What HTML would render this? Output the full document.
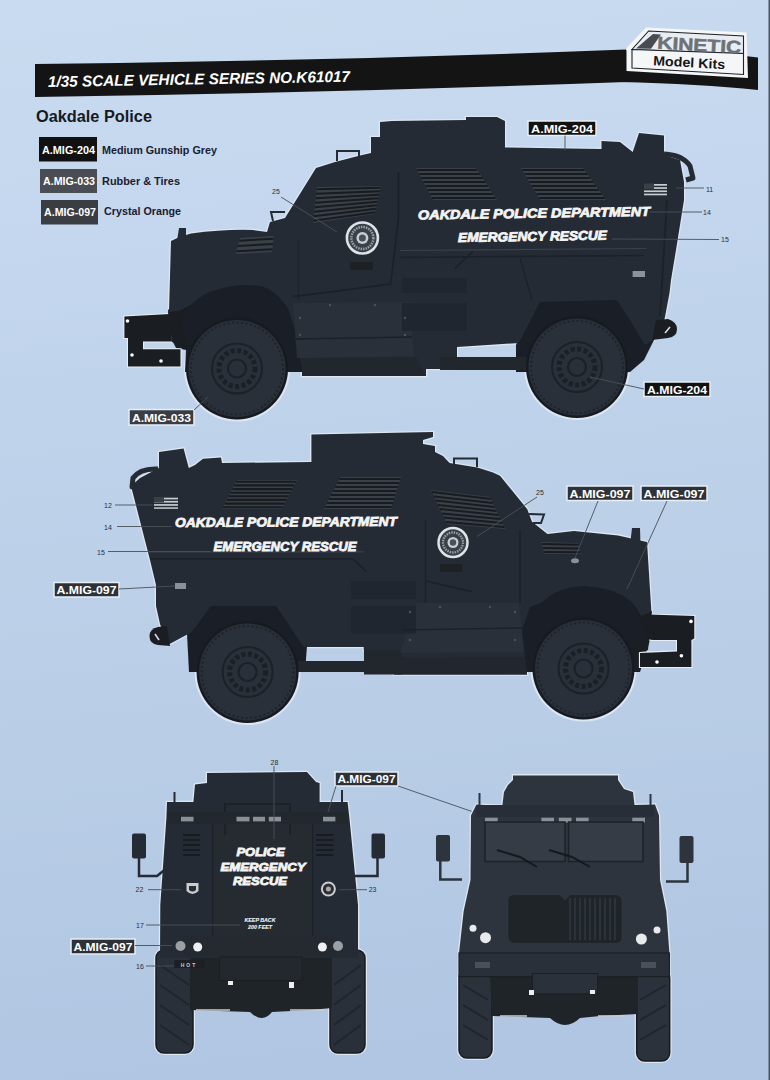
<!DOCTYPE html>
<html><head><meta charset="utf-8">
<style>
html,body{margin:0;padding:0;width:770px;height:1080px;overflow:hidden;background:#c2d2e4;}
svg{display:block;position:absolute;left:0;top:0;}
text{font-family:"Liberation Sans",sans-serif;}
.lbl{font-weight:bold;fill:#fff;}
.num{font-size:7px;fill:#2a2e34;}
.ld{stroke:#4a5058;stroke-width:0.9;fill:none;}
.wt{font-weight:bold;font-style:italic;fill:#f4f4f4;stroke:#f4f4f4;stroke-width:0.8;}
</style></head>
<body>
<svg width="770" height="1080" viewBox="0 0 770 1080">
<defs>
<linearGradient id="bg" x1="0" y1="0" x2="0.08" y2="1">
<stop offset="0" stop-color="#c8dbef"/>
<stop offset="0.23" stop-color="#c4d7ee"/>
<stop offset="0.37" stop-color="#bfd3eb"/>
<stop offset="0.7" stop-color="#b9cde6"/>
<stop offset="1" stop-color="#b0c6e2"/>
</linearGradient>
<g id="wheel">
<circle cx="0" cy="0" r="51" fill="#171b21"/>
<circle cx="0" cy="0" r="48.5" fill="#29303a"/>
<circle cx="0" cy="0" r="46" fill="none" stroke="#1e232a" stroke-width="2" stroke-dasharray="2 2.5"/>
<circle cx="0" cy="0" r="25" fill="none" stroke="#1c2128" stroke-width="2"/>
<circle cx="0" cy="0" r="18" fill="none" stroke="#1c2026" stroke-width="5" stroke-dasharray="4 2.5"/>
<circle cx="0" cy="0" r="9" fill="none" stroke="#1c2128" stroke-width="2.2"/>
</g>
</defs>
<rect x="0" y="0" width="770" height="1080" fill="url(#bg)"/>
<rect x="768.5" y="0" width="1.5" height="1080" fill="#4a5565"/>
<!-- header bar -->
<path d="M35,64 Q330,61 626,49.5 L626,82 Q330,93 35,97 Z" fill="#141414"/>
<path d="M620,50 L745,56 L758,57.5 L758,90 Q700,84 620,82 Z" fill="#141414"/>
<text x="48" y="87" font-size="15.5" font-weight="bold" font-style="italic" fill="#fff" textLength="302" lengthAdjust="spacingAndGlyphs" transform="rotate(-1 48 87)">1/35 SCALE VEHICLE SERIES NO.K61017</text>
<!-- logo -->
<path d="M646,27.5 L746.5,32.5 L748,78 L626.5,71 L626.5,48 Z" fill="#f4f6f8"/>
<path d="M648.6,31 L743.5,36 L743.5,53.5 L632,49.5 Z" fill="#e9edf1" stroke="#1e2226" stroke-width="1.1"/>
<path d="M632,49.5 L743.5,53.5 L743.5,74.5 L632,68 Z" fill="#f4f6f8" stroke="#1e2226" stroke-width="1.1"/>
<path d="M636,48.5 L653,34 L661,34.5 L651,48.8 Z" fill="#474c52"/>
<text x="657" y="48.8" font-size="17.5" font-weight="bold" fill="#6d7278" stroke="#6d7278" stroke-width="0.5" textLength="84" lengthAdjust="spacingAndGlyphs" transform="rotate(3 657 48.8)">KINETIC</text>
<text x="653" y="65.3" font-size="13.5" font-weight="bold" fill="#15171a" textLength="72" lengthAdjust="spacingAndGlyphs" transform="rotate(3 653 65.3)">Model Kits</text>
<!-- title & legend -->
<text x="36" y="122" font-size="16" font-weight="bold" fill="#161a22" textLength="116" lengthAdjust="spacingAndGlyphs">Oakdale Police</text>
<rect x="39" y="137" width="58" height="24.5" fill="#111"/>
<text x="42" y="153.5" class="lbl" font-size="11" textLength="53" lengthAdjust="spacingAndGlyphs">A.MIG-204</text>
<text x="102" y="153.5" font-size="11" font-weight="bold" fill="#1a2030" textLength="115" lengthAdjust="spacingAndGlyphs">Medium Gunship Grey</text>
<rect x="40" y="169" width="57" height="24" fill="#4a4e54"/>
<text x="43" y="185" class="lbl" font-size="11" textLength="52" lengthAdjust="spacingAndGlyphs">A.MIG-033</text>
<text x="102" y="185" font-size="11" font-weight="bold" fill="#1a2030" textLength="78" lengthAdjust="spacingAndGlyphs">Rubber &amp; Tires</text>
<rect x="41" y="200" width="57" height="24.5" fill="#3a3d42"/>
<text x="44" y="216" class="lbl" font-size="11" textLength="52" lengthAdjust="spacingAndGlyphs">A.MIG-097</text>
<text x="104" y="215" font-size="11" font-weight="bold" fill="#1a2030" textLength="77" lengthAdjust="spacingAndGlyphs">Crystal Orange</text>
<!-- ===== VEHICLE 1 ===== -->
<circle cx="237" cy="368.5" r="52" fill="none" stroke="#dce7f2" stroke-width="2"/><circle cx="577" cy="367" r="52" fill="none" stroke="#dce7f2" stroke-width="2"/>
<path d="M171,241 Q180,236 191,233.5 Q225,229 253,230 L267,232 L270,222 L285,218 L316,168 L335,162 L360,155.6 L371,153 L371,137 L380,137 L380,122 L392,121 L466,120 L466,117 L497,117 L505,121 L505,147.5 L601.5,149 L601.5,141 L620,142 L632.7,152 L639,133 L664,135.6 L664,155 L680,160 L684,182 L684,200 L676,250 L671,280 L669.5,293 L665,317 L660,336 L645,345 L631,322 L617,300 L540,302 L519,343 L457,347 L457,369 L426,369 L426,376 L302,376 L302,366 L289,310 Q275,288 258,285.5 L242,285 Q215,287 200,300 L180,310.4 L169,312 Z" fill="none" stroke="#dce7f2" stroke-width="2.6"/>
<!-- dark fill behind wheels -->
<path d="M168,310 L185,296 Q205,278 242,277 Q285,280 303,332 L302,372 L185,372 L186,350 L176,348 L170,336 Z" fill="#1a1f27"/>
<path d="M516,345 L536,295 L620,293 L636,318 L656,336 L644,360 L630,372 L516,372 Z" fill="#1a1f27"/>
<!-- front tow bracket -->
<path d="M170,314 L124.4,316.6 L124.4,338 L128,338 L128,366.5 L180.5,366.5 L180.5,349.3 L143,349.3 L143,341.5 L172,341.5 Z" fill="none" stroke="#e8eef4" stroke-width="2.2"/>
<path d="M168,312 L190,305 L190,350 L172,342 Z" fill="#1a1e22"/>
<path d="M170,314 L124.4,316.6 L124.4,338 L128,338 L128,366.5 L180.5,366.5 L180.5,349.3 L143,349.3 L143,341.5 L172,341.5 Z" fill="#1a1e22"/>
<circle cx="127.5" cy="321" r="1.8" fill="#fff"/><circle cx="132" cy="355" r="1.8" fill="#fff"/><circle cx="161" cy="361" r="1.8" fill="#fff"/>
<!-- body silhouette -->
<path d="M171,241 Q180,236 191,233.5 Q225,229 253,230 L267,232 L270,222 L285,218 L316,168 L335,162 L360,155.6 L371,153 L371,137 L380,137 L380,122 L392,121 L466,120 L466,117 L497,117 L505,121 L505,147.5 L601.5,149 L601.5,141 L620,142 L632.7,152 L639,133 L664,135.6 L664,155 L680,160 L684,182 L684,200 L676,250 L671,280 L669.5,293 L665,317 L660,336 L645,345 L631,322 L617,300 L540,302 L519,343 L457,347 L457,369 L426,369 L426,376 L302,376 L302,366 L289,310 Q275,288 258,285.5 L242,285 Q215,287 200,300 L180,310.4 L169,312 Z" fill="#252b35"/>
<!-- exhaust hook -->
<path d="M664,154 Q683,155 690,166 L693,178 L686,180" fill="none" stroke="#252b35" stroke-width="5" stroke-linejoin="round"/>
<!-- rear hitch -->
<path d="M656,320 L668,319 Q677,322 677,329 Q677,337 668,338 L652,340 Z" fill="#1a1e22"/><path d="M665,333 L670,327" stroke="#dde" stroke-width="1.5"/>
<!-- fender arches -->
<path d="M180,322 Q195,287 242,286 Q285,290 295,330 L301,366 L290,366 Q275,318 237,317 Q205,318 187,345 Z" fill="#1a1f27"/>
<path d="M519,343 L540,303 L616,301 L631,322 L640,345 L630,350 Q615,318 577,315 Q540,318 525,350 Z" fill="#1a1f27"/>
<!-- axle rod -->
<rect x="440" y="357" width="90" height="13" fill="#22272d"/>
<!-- step panel -->
<path d="M293,303 L410,302 L414,357 L297,358 Z" fill="#2a3039"/>
<path d="M303,358 L416,357 L426,376 L302,376 Z" fill="#22272d"/>
<line x1="298.5" y1="240" x2="298.5" y2="300" stroke="#1f242a" stroke-width="1.5"/>
<!-- panel details -->
<path d="M400,250.5 L646,248.5" stroke="#3a424e" stroke-width="1.2"/>
<path d="M400,257.5 L644,255.5" stroke="#1b2029" stroke-width="1.5"/>
<path d="M398.5,172 L398.5,218.7 L390.6,284 L342,290.4 L292.5,296.6" fill="none" stroke="#1b2029" stroke-width="1.6"/>
<path d="M454.6,268.6 L473,251.4" stroke="#1b2029" stroke-width="1.5"/>
<rect x="402" y="278" width="65" height="15" fill="#20262f"/>
<rect x="402" y="303" width="65" height="28" fill="#20262f"/>
<path d="M520,258 L532,300" stroke="#1b2029" stroke-width="1.2"/>
<g fill="#4a525c"><circle cx="300" cy="318" r="1.2"/><circle cx="300" cy="335" r="1.2"/><circle cx="405" cy="318" r="1.2"/><circle cx="405" cy="335" r="1.2"/><circle cx="330" cy="305" r="1.2"/><circle cx="375" cy="305" r="1.2"/></g>
<path d="M296,339 L412,337" stroke="#1b2029" stroke-width="1.3"/>
<!-- wheels -->
<use href="#wheel" x="237" y="368.5"/>
<use href="#wheel" x="577" y="367"/>
<!-- vents -->
<path d="M317,187 L381,186 L375,214 L313,223 Z" fill="#3a4048"/><path d="M316.8,189.2 L380.6,187.8 M316.2,193.8 L379.9,191.2 M315.8,198.2 L379.1,194.8 M315.2,202.8 L378.4,198.2 M314.8,207.2 L377.6,201.8 M314.2,211.8 L376.9,205.2 M313.8,216.2 L376.1,208.8 M313.2,220.8 L375.4,212.2 " stroke="#181c21" stroke-width="2" fill="none"/><path d="M416,168 L476,168 L497,200 L433,200 Z" fill="#3a4048"/><path d="M417.1,170.0 L477.3,170.0 M419.2,174.0 L479.9,174.0 M421.3,178.0 L482.6,178.0 M423.4,182.0 L485.2,182.0 M425.6,186.0 L487.8,186.0 M427.7,190.0 L490.4,190.0 M429.8,194.0 L493.1,194.0 M431.9,198.0 L495.7,198.0 " stroke="#181c21" stroke-width="2.2" fill="none"/><path d="M521,168 L583,168 L606,200 L540,200 Z" fill="#3a4048"/><path d="M522.2,170.0 L584.4,170.0 M524.6,174.0 L587.3,174.0 M526.9,178.0 L590.2,178.0 M529.3,182.0 L593.1,182.0 M531.7,186.0 L595.9,186.0 M534.1,190.0 L598.8,190.0 M536.4,194.0 L601.7,194.0 M538.8,198.0 L604.6,198.0 " stroke="#181c21" stroke-width="2.2" fill="none"/><path d="M240,238 L274,236 L272,252 L236,254 Z" fill="#3a4048"/><path d="M239.3,240.7 L273.7,238.7 M238.0,246.0 L273.0,244.0 M236.7,251.3 L272.3,249.3 " stroke="#181c21" stroke-width="2" fill="none"/>
<!-- handrail & small parts -->
<path d="M337,161 L337,151 L359,151 L359,157" fill="none" stroke="#252b35" stroke-width="2"/>
<path d="M177,241 L179,228 L186,228 L186,241 Z" fill="#252b35"/><path d="M285,212 L271,212 L273,221" fill="none" stroke="#252b35" stroke-width="2"/>
<!-- badge -->
<circle cx="362.4" cy="238" r="15.5" fill="#3a4048" stroke="#dfe3e7" stroke-width="2.6"/>
<circle cx="362.4" cy="238" r="11" fill="none" stroke="#9aa0a8" stroke-width="2.5" stroke-dasharray="1.5 1"/>
<circle cx="362.4" cy="238" r="6" fill="#c9cdd2"/>
<circle cx="362.4" cy="238" r="3.5" fill="#4a5058"/>
<rect x="350" y="262" width="23" height="8" fill="#1e2124"/>
<rect x="632.6" y="271" width="12.4" height="6" fill="#8a929c"/>
<path d="M667,200 L660,316" stroke="#1d222a" stroke-width="2"/>
<!-- flag -->
<g fill="#c8ccd0"><rect x="644" y="184" width="23" height="1.7"/><rect x="644" y="187.2" width="23" height="1.7"/><rect x="644" y="190.4" width="23" height="1.7"/><rect x="644" y="193.6" width="23" height="1.7"/></g><rect x="644" y="183.5" width="10" height="5.5" fill="#3a4048"/>
<text class="wt" x="418" y="219.5" font-size="13" textLength="232" lengthAdjust="spacingAndGlyphs" transform="rotate(-0.9 418 219.5)">OAKDALE POLICE DEPARTMENT</text>
<text class="wt" x="458" y="242" font-size="13" textLength="149" lengthAdjust="spacingAndGlyphs" transform="rotate(-0.9 458 242)">EMERGENCY RESCUE</text>
<rect x="528" y="121" width="68" height="14.5" fill="#121212" stroke="#e6eef6" stroke-width="1.5"/>
<text x="531" y="132.5" class="lbl" font-size="11" textLength="62" lengthAdjust="spacingAndGlyphs">A.MIG-204</text>
<line x1="565" y1="135.5" x2="565" y2="150" class="ld"/>
<rect x="644" y="382" width="66" height="14.5" fill="#121212" stroke="#e6eef6" stroke-width="1.5"/>
<text x="647" y="393.5" class="lbl" font-size="11" textLength="60" lengthAdjust="spacingAndGlyphs">A.MIG-204</text>
<line x1="644" y1="389" x2="590" y2="377" class="ld" stroke="#8a949e"/>
<rect x="129" y="409.5" width="65" height="15.5" fill="#3a3e44" stroke="#e6eef6" stroke-width="1.5"/>
<text x="132" y="421.5" class="lbl" font-size="11" textLength="59" lengthAdjust="spacingAndGlyphs">A.MIG-033</text>
<line x1="194" y1="410" x2="208" y2="397" class="ld" stroke="#8a949e"/>
<text x="272" y="194" class="num">25</text>
<line x1="281" y1="197" x2="337" y2="232" class="ld" stroke="#555"/>
<text x="706" y="192" class="num">11</text>
<line x1="676" y1="188" x2="704" y2="188" class="ld"/>
<text x="703" y="215" class="num">14</text>
<line x1="650" y1="212" x2="702" y2="212" class="ld"/>
<text x="721" y="242" class="num">15</text>
<line x1="612" y1="239" x2="719" y2="239.5" class="ld"/>
<!-- ===== VEHICLE 2 ===== -->
<circle cx="247.6" cy="672" r="52" fill="none" stroke="#dce7f2" stroke-width="2"/><circle cx="583.5" cy="668.5" r="52" fill="none" stroke="#dce7f2" stroke-width="2"/>
<path d="M140,478 L159,468 L159,452 L183.6,448.4 L188.8,468 L195,465 L203,458.8 L221,457.5 L222,463 L311.4,462 L311.4,434.4 L433,432 L433,437 L423,440 L423,444 L435,446 L435,452 L443,456 L449.6,463 L477.4,467.5 L493,472.6 L500,475.7 L527.3,509.2 L532,521.7 L547.5,534 L574,531 L618,535.4 L647,542 L651.4,611.5 L641.5,616 L640,614 L618,594 L585,586 L530,607 L522,630 L527,674.5 L394,674.5 L394,650 L363.7,650 L363.7,647 L303.6,647 L276,606 L211,606 L192,632 L167.7,645 L160,624 L156,606 L156,585 L150,560 L131,486 Z" fill="none" stroke="#dce7f2" stroke-width="2.6"/>
<path d="M187,634 L207,600 L280,600 L307,646 L305,672 L189,672 Z" fill="#1a1f27"/>
<path d="M517,630 L525,602 L585,579 L622,587 L646,610 L650,640 L640,672 L519,672 Z" fill="#1a1f27"/>
<!-- front bracket -->
<path d="M641.4,614.3 L694.3,616 L694.3,638.6 L691.4,640 L691.4,667 L640,667 L640,652.9 L677,651.4 L677,640 L652.9,640 L641.4,638.6 Z" fill="none" stroke="#e8eef4" stroke-width="2.2"/>
<path d="M630,612 L652,611 L648,650 L628,655 Z" fill="#1a1e22"/>
<path d="M641.4,614.3 L694.3,616 L694.3,638.6 L691.4,640 L691.4,667 L640,667 L640,652.9 L677,651.4 L677,640 L652.9,640 L641.4,638.6 Z" fill="#1a1e22"/>
<circle cx="691" cy="621.4" r="1.8" fill="#fff"/><circle cx="657" cy="662" r="1.8" fill="#fff"/><circle cx="681.4" cy="655.7" r="1.8" fill="#fff"/>
<!-- body -->
<path d="M140,478 L159,468 L159,452 L183.6,448.4 L188.8,468 L195,465 L203,458.8 L221,457.5 L222,463 L311.4,462 L311.4,434.4 L433,432 L433,437 L423,440 L423,444 L435,446 L435,452 L443,456 L449.6,463 L477.4,467.5 L493,472.6 L500,475.7 L527.3,509.2 L532,521.7 L547.5,534 L574,531 L618,535.4 L647,542 L651.4,611.5 L641.5,616 L640,614 L618,594 L585,586 L530,607 L522,630 L527,674.5 L394,674.5 L394,650 L363.7,650 L363.7,647 L303.6,647 L276,606 L211,606 L192,632 L167.7,645 L160,624 L156,606 L156,585 L150,560 L131,486 Z" fill="#252b35"/>
<path d="M158,469 Q140,468 133,478 L132,487 L138,489" fill="none" stroke="#252b35" stroke-width="5" stroke-linejoin="round"/>
<path d="M167,626 L158,627 Q149.5,629 149.5,636 Q149.5,644 158,645 L170,646 Z" fill="#1a1e22"/><path d="M155,634 L159,640" stroke="#dde" stroke-width="1.5"/>
<!-- fender arches -->
<path d="M192,632 L211,607 L276,607 L303,647 L303,666 L297,666 Q285,622 247.6,620 Q212,622 198,650 Z" fill="#1a1f27"/>
<path d="M522,640 Q535,588 583,586 Q628,588 640,614 L645,640 L632,650 Q620,618 583,617 Q545,618 533,650 Z" fill="#1a1f27"/>
<!-- axle rod -->
<rect x="298" y="661" width="70" height="11" fill="#22272d"/>
<rect x="364" y="650" width="38" height="24.5" fill="#22272d"/>
<!-- step panel -->
<path d="M416,603 L519,603 L524,652 L400,653 Z" fill="#2a3039"/>
<path d="M396,658 L525,657 L527,674.5 L394,674.5 Z" fill="#22272d"/>
<path d="M148,551.8 L363.6,551.8" stroke="#3a424e" stroke-width="1.2"/>
<path d="M150,559 L352.7,559 L367,571.8" fill="none" stroke="#1b2029" stroke-width="1.5"/>
<rect x="351" y="581" width="65" height="18" fill="#20262f"/>
<rect x="351" y="606" width="65" height="27.6" fill="#20262f"/>
<path d="M425.5,520 L425.5,602.7 M425.5,581 L472.7,591.8 M520,530 L520,602.7" fill="none" stroke="#1b2029" stroke-width="1.5"/>
<path d="M402,630 L522,628" stroke="#1b2029" stroke-width="1.3"/>
<g fill="#4a525c"><circle cx="410" cy="612" r="1.2"/><circle cx="410" cy="640" r="1.2"/><circle cx="515" cy="612" r="1.2"/><circle cx="515" cy="640" r="1.2"/><circle cx="440" cy="607" r="1.2"/><circle cx="490" cy="607" r="1.2"/></g>
<use href="#wheel" x="247.6" y="672"/>
<use href="#wheel" x="583.5" y="668.5"/>
<path d="M237,480 L297,480 L282,509 L222,509 Z" fill="#3a4048"/><path d="M236.1,481.8 L296.1,481.8 M234.2,485.4 L294.2,485.4 M232.3,489.1 L292.3,489.1 M230.4,492.7 L290.4,492.7 M228.6,496.3 L288.6,496.3 M226.7,499.9 L286.7,499.9 M224.8,503.6 L284.8,503.6 M222.9,507.2 L282.9,507.2 " stroke="#181c21" stroke-width="2.1" fill="none"/><path d="M340.5,477 L401,477 L391,509 L323.6,509 Z" fill="#3a4048"/><path d="M339.4,479.0 L400.4,479.0 M337.3,483.0 L399.1,483.0 M335.2,487.0 L397.9,487.0 M333.1,491.0 L396.6,491.0 M331.0,495.0 L395.4,495.0 M328.9,499.0 L394.1,499.0 M326.8,503.0 L392.9,503.0 M324.7,507.0 L391.6,507.0 " stroke="#181c21" stroke-width="2.1" fill="none"/><path d="M431,490 L490,497 L505,529 L447,524 Z" fill="#3a4048"/><path d="M432.0,492.1 L490.9,499.0 M434.0,496.4 L492.8,503.0 M436.0,500.6 L494.7,507.0 M438.0,504.9 L496.6,511.0 M440.0,509.1 L498.4,515.0 M442.0,513.4 L500.3,519.0 M444.0,517.6 L502.2,523.0 M446.0,521.9 L504.1,527.0 " stroke="#181c21" stroke-width="2" fill="none"/><path d="M541,542 L578,543 L581,554 L545,554 Z" fill="#3a4048"/><path d="M541.7,544.0 L578.5,544.8 M543.0,548.0 L579.5,548.5 M544.3,552.0 L580.5,552.2 " stroke="#181c21" stroke-width="2" fill="none"/>
<path d="M454,467 L454,458.6 L477,458.6 L477,467" fill="none" stroke="#252b35" stroke-width="2"/><path d="M529,514 L544,514.5 L541,523 L533,523" fill="none" stroke="#252b35" stroke-width="2"/>
<path d="M630.4,542 L632,528 L640,528 L640.4,542 Z" fill="#252b35"/>
<circle cx="453" cy="542.5" r="14.5" fill="#3a4048" stroke="#dfe3e7" stroke-width="2.5"/>
<circle cx="453" cy="542.5" r="10" fill="none" stroke="#9aa0a8" stroke-width="2.3" stroke-dasharray="1.5 1"/>
<circle cx="453" cy="542.5" r="5.5" fill="#c9cdd2"/>
<circle cx="453" cy="542.5" r="3.2" fill="#4a5058"/>
<rect x="440" y="564" width="22" height="8" fill="#1e2124"/>
<ellipse cx="575" cy="560.8" rx="4" ry="2.5" fill="#8a9098"/>
<g fill="#c8ccd0"><rect x="154" y="497.7" width="24" height="1.7"/><rect x="154" y="500.9" width="24" height="1.7"/><rect x="154" y="504.1" width="24" height="1.7"/><rect x="154" y="507.3" width="24" height="1.5"/></g><rect x="154" y="497" width="10" height="5.5" fill="#3a4048"/>
<rect x="175" y="583" width="11" height="6" fill="#8a9098"/>
<text class="wt" x="175" y="527" font-size="13" textLength="222" lengthAdjust="spacingAndGlyphs" transform="rotate(-0.3 175 527)">OAKDALE POLICE DEPARTMENT</text>
<text class="wt" x="213.5" y="550.5" font-size="13" textLength="143" lengthAdjust="spacingAndGlyphs">EMERGENCY RESCUE</text>
<text x="104" y="508" class="num">12</text>
<line x1="115" y1="505" x2="153" y2="505" class="ld"/>
<text x="104" y="530" class="num">14</text>
<line x1="117" y1="526.5" x2="172" y2="526.5" class="ld"/>
<text x="97" y="555" class="num">15</text>
<line x1="108" y1="551.5" x2="210" y2="551.5" class="ld"/>
<rect x="54" y="582.5" width="65" height="14.5" fill="#2e3238" stroke="#e6eef6" stroke-width="1.5"/>
<text x="56.5" y="594" class="lbl" font-size="11" textLength="60" lengthAdjust="spacingAndGlyphs">A.MIG-097</text>
<line x1="119" y1="589" x2="175" y2="586" class="ld"/>
<text x="536" y="495" class="num">25</text>
<line x1="537" y1="497" x2="477" y2="536.5" class="ld" stroke="#6a7078"/>
<rect x="567" y="486" width="66" height="14.5" fill="#2e3238" stroke="#e6eef6" stroke-width="1.5"/>
<text x="569.5" y="497.5" class="lbl" font-size="11" textLength="61" lengthAdjust="spacingAndGlyphs">A.MIG-097</text>
<line x1="598" y1="501" x2="575" y2="558" class="ld"/>
<rect x="641" y="486" width="66" height="14.5" fill="#2e3238" stroke="#e6eef6" stroke-width="1.5"/>
<text x="643.5" y="497.5" class="lbl" font-size="11" textLength="61" lengthAdjust="spacingAndGlyphs">A.MIG-097</text>
<line x1="667" y1="501" x2="627" y2="589" class="ld"/>
<!-- ===== REAR VIEW ===== -->
<g id="rear">
<path d="M207,773 L307,772 L316,782 L319.6,783 L319.6,802 L347.6,802 L349.4,818 L358,905 L358,958 L160,958 L160.3,905 L166.4,818 L167,802 L193.4,802 L195,784.5 L207,783 Z" fill="none" stroke="#dce7f2" stroke-width="2.6"/>
<rect x="155" y="949" width="39" height="105" rx="9" fill="none" stroke="#dce7f2" stroke-width="2"/><rect x="329" y="949" width="37" height="105" rx="9" fill="none" stroke="#dce7f2" stroke-width="2"/>
<!-- tires -->
<rect x="156" y="950" width="37" height="103" rx="8" fill="#29303a" stroke="#171b21" stroke-width="1.5"/><path d="M160,965 L189,985 M160,985 L189,1005 M160,1005 L189,1025 M160,1025 L189,1045" stroke="#20252d" stroke-width="2"/>
<rect x="330" y="950" width="35" height="103" rx="8" fill="#29303a" stroke="#171b21" stroke-width="1.5"/><path d="M334,985 L361,965 M334,1005 L361,985 M334,1025 L361,1005 M334,1045 L361,1025" stroke="#20252d" stroke-width="2"/>
<!-- undercarriage -->
<path d="M190,955 L332,955 L332,1008 L310,1010 L272,1012 Q262,1024 250,1012 L190,1010 Z" fill="#1f2429"/>
<!-- mirrors -->
<rect x="132" y="833.5" width="14" height="25" rx="2" fill="#252b35"/>
<path d="M139,858 L139,876 L157,876 L167,868" fill="none" stroke="#252b35" stroke-width="2.5"/>
<rect x="371.5" y="833.5" width="13.5" height="25" rx="2" fill="#252b35"/>
<path d="M377.5,858 L377.5,876 L353,876" fill="none" stroke="#252b35" stroke-width="2.5"/>
<!-- body -->
<path d="M207,773 L307,772 L316,782 L319.6,783 L319.6,802 L347.6,802 L349.4,818 L358,905 L358,958 L160,958 L160.3,905 L166.4,818 L167,802 L193.4,802 L195,784.5 L207,783 Z" fill="#252b35"/>
<line x1="174.5" y1="792" x2="174.5" y2="803" stroke="#252b35" stroke-width="2"/>
<line x1="342" y1="790" x2="342" y2="803" stroke="#252b35" stroke-width="2"/>
<!-- door -->
<rect x="212.7" y="823" width="100" height="114" fill="#262b32" stroke="#1c2026" stroke-width="1.2"/>
<path d="M225,835 L225,804 L290,804 L290,835" fill="none" stroke="#1e2227" stroke-width="2"/>
<!-- top band -->
<rect x="167" y="812" width="181" height="12" fill="#23282e"/>
<g fill="#8a9098"><rect x="181" y="816.8" width="12.5" height="4.6"/><rect x="236.5" y="816.8" width="13" height="4.6"/><rect x="253" y="816.8" width="12" height="4.6"/><rect x="268.8" y="816.8" width="12.2" height="4.6"/><rect x="323" y="816.8" width="12.4" height="4.6"/></g>
<!-- vents -->
<g stroke="#181c21" stroke-width="2.2">
<path d="M183,835 H200 M183,840 H200 M183,845 H200 M183,850 H200 M183,855 H200"/>
<path d="M316,835 H333.5 M316,840 H333.5 M316,845 H333.5 M316,850 H333.5 M316,855 H333.5"/>
</g>
<!-- badges -->
<path d="M186.5,883 L198.5,883 L198.5,891 Q192.5,897 186.5,891 Z" fill="#c9ccd0"/>
<path d="M189,886 L196,886 L196,890 Q192.5,893 189,890 Z" fill="#2a2d31"/>
<circle cx="328.4" cy="889" r="7.5" fill="#c9ccd0"/>
<circle cx="328.4" cy="889" r="5.5" fill="#2a2d31"/>
<circle cx="328.4" cy="889" r="2.5" fill="#aaa"/>
<!-- lower body -->
<rect x="180" y="936" width="160" height="20" fill="#252a30"/>
<rect x="219.5" y="957" width="82.5" height="23.5" fill="#23282e" stroke="#1a1e23" stroke-width="1"/>
<circle cx="180.5" cy="946" r="5" fill="#9aa0a6"/><circle cx="197.7" cy="947" r="4.5" fill="#eef0f2"/>
<circle cx="322.4" cy="947" r="4.5" fill="#eef0f2"/><circle cx="338" cy="946" r="5" fill="#9aa0a6"/>
<rect x="174.3" y="960" width="30" height="8" fill="#1c2024"/>
<text x="189" y="966.5" font-size="5" font-weight="bold" fill="#ccc" text-anchor="middle" letter-spacing="2">HOT</text>
<rect x="228" y="981" width="5" height="4" fill="#eee"/><rect x="289" y="982" width="5" height="6" fill="#eee"/>
<path d="M196,1010 H230 M290,1010 H325" stroke="#c8ccd0" stroke-width="1.3"/>
<!-- text -->
<text class="wt" x="260.5" y="856" font-size="11" text-anchor="middle" textLength="48" lengthAdjust="spacingAndGlyphs">POLICE</text>
<text class="wt" x="263" y="871" font-size="11" text-anchor="middle" textLength="85" lengthAdjust="spacingAndGlyphs">EMERGENCY</text>
<text class="wt" x="260" y="885.3" font-size="11" text-anchor="middle" textLength="54" lengthAdjust="spacingAndGlyphs">RESCUE</text>
<text class="wt" style="stroke-width:0.1" x="260" y="922" font-size="5" text-anchor="middle" textLength="31" lengthAdjust="spacingAndGlyphs">KEEP BACK</text>
<text class="wt" style="stroke-width:0.1" x="260" y="928.5" font-size="5" text-anchor="middle" textLength="24" lengthAdjust="spacingAndGlyphs">200 FEET</text>
</g>
<text x="270.5" y="765" class="num">28</text>
<line x1="274" y1="766" x2="274" y2="839" class="ld" stroke="#9aa2aa"/>
<rect x="335" y="772" width="63" height="14" fill="#2e3238" stroke="#e6eef6" stroke-width="1.5"/>
<text x="337.5" y="783" class="lbl" font-size="11" textLength="58" lengthAdjust="spacingAndGlyphs">A.MIG-097</text>
<line x1="336" y1="786" x2="328" y2="812" class="ld"/>
<line x1="398" y1="786" x2="485" y2="816" class="ld"/>
<text x="135.5" y="892" class="num">22</text>
<line x1="148" y1="889.7" x2="181" y2="889.7" class="ld"/>
<text x="368.7" y="892" class="num">23</text>
<line x1="339" y1="889.7" x2="367" y2="889.7" class="ld"/>
<text x="136" y="928" class="num">17</text>
<line x1="146" y1="925" x2="240" y2="925" class="ld"/>
<rect x="71" y="939" width="64" height="15" fill="#2e3238" stroke="#e6eef6" stroke-width="1.5"/>
<text x="73.5" y="950.5" class="lbl" font-size="11" textLength="59" lengthAdjust="spacingAndGlyphs">A.MIG-097</text>
<line x1="135" y1="945.5" x2="172" y2="945.5" class="ld"/>
<text x="136" y="969" class="num">16</text>
<line x1="146" y1="966" x2="174" y2="966" class="ld"/>

<!-- ===== FRONT VIEW ===== -->
<g id="front">
<path d="M513,775.4 L618,775.4 L618,780 L624,789 L633,792 L634.5,805 L655,804.5 L659,815.5 L660,880 L666.3,911 L669.4,953 L669.4,977 L459,977 L459,953 L463.7,911 L470.5,880 L471,815.5 L476.4,804.5 L502.3,806 L504,792 L508,785 L513,780 Z" fill="none" stroke="#dce7f2" stroke-width="2.6"/>
<rect x="458" y="969" width="35" height="90" rx="9" fill="none" stroke="#dce7f2" stroke-width="2"/><rect x="635.7" y="969" width="35" height="93" rx="9" fill="none" stroke="#dce7f2" stroke-width="2"/>
<rect x="459" y="970" width="33" height="88" rx="8" fill="#2b323c" stroke="#171b21" stroke-width="1.5"/><path d="M463,985 L488,1000 M463,1005 L488,1020 M463,1025 L488,1040" stroke="#20252d" stroke-width="2"/>
<rect x="636.7" y="970" width="33" height="91" rx="8" fill="#2b323c" stroke="#171b21" stroke-width="1.5"/><path d="M640,1000 L666,985 M640,1020 L666,1005 M640,1040 L666,1025" stroke="#20252d" stroke-width="2"/>
<path d="M490,976 L638,976 L638,1014 L600,1016 L580,1018 Q565,1032 550,1018 L492,1016 Z" fill="#1f2429"/>
<rect x="436" y="835" width="14" height="26.5" rx="2" fill="#2d343e"/>
<path d="M440.3,861 L440.3,879.5 L462,879.5" fill="none" stroke="#2d343e" stroke-width="2.5"/>
<rect x="679.5" y="836" width="14" height="27" rx="2" fill="#2d343e"/>
<path d="M687.5,862 L687.5,881.4 L666,881.4" fill="none" stroke="#2d343e" stroke-width="2.5"/>
<path d="M513,775.4 L618,775.4 L618,780 L624,789 L633,792 L634.5,805 L655,804.5 L659,815.5 L660,880 L666.3,911 L669.4,953 L669.4,977 L459,977 L459,953 L463.7,911 L470.5,880 L471,815.5 L476.4,804.5 L502.3,806 L504,792 L508,785 L513,780 Z" fill="#2d343e"/>
<line x1="479.5" y1="793" x2="479.5" y2="805" stroke="#2d343e" stroke-width="2"/>
<line x1="650.5" y1="794" x2="650.5" y2="805" stroke="#2d343e" stroke-width="2"/>
<rect x="476" y="805" width="178" height="12" fill="#282e37"/>
<g fill="#8a9098"><rect x="485" y="817.7" width="12.7" height="4.8"/><rect x="541.4" y="817.7" width="12.6" height="4.8"/><rect x="558.8" y="817.7" width="12.7" height="4.8"/><rect x="576" y="817.7" width="12.6" height="4.8"/><rect x="632.3" y="817.7" width="12.7" height="4.8"/></g>
<rect x="485" y="822" width="80" height="39.5" fill="#353c46" stroke="#1d222a" stroke-width="1.5"/>
<rect x="568.6" y="822" width="74.4" height="39.5" fill="#353c46" stroke="#1d222a" stroke-width="1.5"/>
<path d="M497,850 L520,857 L537,867 M549,850 L572,857 L590,867" fill="none" stroke="#15191d" stroke-width="2"/>
<path d="M507.3,900 Q507.3,894 515,894 L560,894 L565,899 L570,894 L615,894 Q622.7,894 622.7,902 L622.7,937 Q622.7,944 615,944 L515,944 Q507.3,944 507.3,936 Z" fill="#1f2429" stroke="#2f353c" stroke-width="2"/>
<g stroke="#353b42" stroke-width="1.3"><path d="M570,898 V940 M575,898 V940 M580,898 V940 M585,898 V940 M590,898 V940 M595,898 V940 M600,898 V940 M605,898 V940 M610,898 V940 M615,898 V940"/></g>
<circle cx="473" cy="928.3" r="3.5" fill="#e8eaec"/><circle cx="485.5" cy="937.7" r="5.5" fill="#e8eaec"/>
<circle cx="641.4" cy="939" r="5.5" fill="#e8eaec"/><circle cx="657" cy="930" r="3.5" fill="#e8eaec"/>
<rect x="459" y="953" width="210.4" height="23.6" fill="#2a3039" stroke="#1c2025" stroke-width="1.2"/>
<rect x="532.3" y="973.5" width="65.4" height="20.3" fill="#2b313a" stroke="#1a1e24" stroke-width="1"/>
<rect x="475" y="962" width="15" height="6" fill="#4a5058"/><rect x="641" y="962" width="15" height="6" fill="#4a5058"/>
<rect x="529" y="990" width="5" height="5" fill="#eee"/><rect x="590" y="990" width="5" height="4" fill="#eee"/>
<path d="M500,1016 H527 M598,1016 H625" stroke="#c8ccd0" stroke-width="1.3"/>
</g>
</svg>
</body></html>
